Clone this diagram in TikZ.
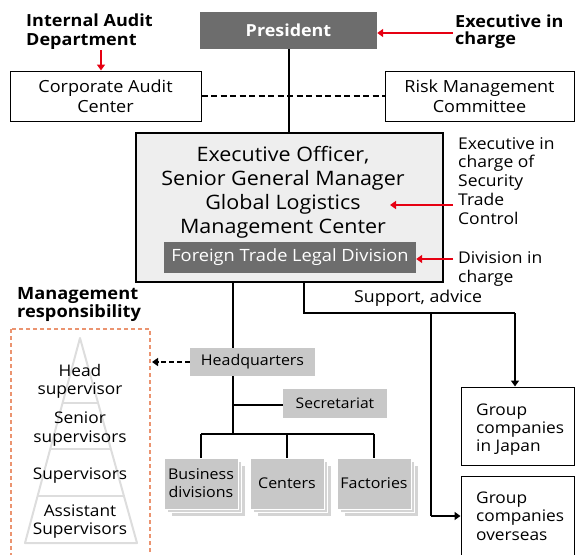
\documentclass[tikz,border=0pt]{standalone}
\usepackage{fontspec}
\setmainfont[FakeStretch=1.08]{Open Sans}
\usetikzlibrary{arrows.meta}
\definecolor{dgray}{HTML}{6D6D6D}
\definecolor{mgray}{HTML}{C8C8C8}
\definecolor{sgray}{HTML}{D4D4D4}
\definecolor{lgray}{HTML}{EEEEEE}
\definecolor{pgray}{HTML}{DDDDDD}
\definecolor{sred}{HTML}{E60012}
\definecolor{orng}{HTML}{EB9470}
\begin{document}
\begin{tikzpicture}[x=1pt,y=-1pt,
  wbox/.style={draw=black, line width=1pt, fill=white, inner sep=0pt, align=center},
  darkbox/.style={fill=dgray, text=white, inner sep=0pt, align=center},
  greybox/.style={fill=mgray, inner sep=0pt, align=center},
  stackbox/.style={fill=mgray, draw=white, line width=0.8pt, inner sep=0pt, align=center, font=\fontsize{14.8}{18}\selectfont},
  shadowbox/.style={fill=sgray, draw=white, line width=0.8pt, inner sep=0pt},
  txt/.style={inner sep=0pt, align=left},
  conn/.style={line width=2pt, black},
  redarrow/.style={line width=1.6pt, sred, -{Triangle[width=8pt,length=6pt]}},
  blkarrow/.style={line width=2pt, black, -{Triangle[width=8pt,length=6pt]}},
]
\useasboundingbox (0,0) rectangle (575,554);
\begin{scope}
\clip (0,0) rectangle (575,554);

% top row
\node[darkbox, minimum width=177pt, minimum height=37pt, font=\fontsize{16.6}{19}\bfseries] (pres) at (288.5,30.5) {President};
\node[txt, anchor=base west, font=\fontsize{16.7}{18}\bfseries] (iad) at (26,45) {Internal Audit\\Department};
\node[txt, anchor=base west, font=\fontsize{16.7}{17}\bfseries] (eic) at (455,44) {Executive in\\charge};
\node[wbox, minimum width=191pt, minimum height=50pt, font=\fontsize{16.7}{20}\selectfont] (cac) at (105.5,96) {Corporate Audit\\Center};
\node[wbox, minimum width=189pt, minimum height=50pt, font=\fontsize{16.7}{20}\selectfont] (rmc) at (479.5,96) {Risk Management\\Committee};
\coordinate (iadarr) at (101,50);
\draw[redarrow] (iadarr) -- (iadarr |- cac.north);
\coordinate (eicarr) at (453,33);
\draw[redarrow] (eicarr) -- (pres.east |- eicarr);

% executive box
\node[draw=black, line width=2.5pt, fill=lgray, minimum width=307pt, minimum height=149pt, inner sep=0pt] (exec) at (289.5,207.5) {};
\node[txt, align=center, anchor=base, font=\fontsize{19.9}{24}\selectfont] (exectxt) at (283,233) {Executive Officer,\\Senior General Manager\\Global Logistics\\Management Center};
\node[darkbox, minimum width=252pt, minimum height=31pt, font=\fontsize{16.9}{19}\selectfont] (ftld) at (290,257.5) {Foreign Trade Legal Division};
\node[txt, anchor=base west, font=\fontsize{16.2}{18.75}\selectfont] (eicstc) at (458,224) {Executive in\\charge of\\Security\\Trade\\Control};
\node[txt, anchor=base west, font=\fontsize{16.2}{18.5}\selectfont] (dic) at (458,282) {Division in\\charge};
\coordinate (a1) at (453,205);
\coordinate (a1e) at (390,205);
\draw[redarrow] (a1) -- (a1e);
\coordinate (a2) at (453,259);
\draw[redarrow] (a2) -- (ftld.east |- a2);
\draw[conn] (pres.south) -- (pres.south |- exec.north);
\draw[conn, dash pattern=on 6pt off 3.5pt] (cac.east) -- (rmc.west);

% support line
\node[txt, anchor=base west, font=\fontsize{16.4}{19}\selectfont] (sup) at (354,302) {Support, advice};
\node[wbox, minimum width=113pt, minimum height=78pt] (gcj) at (517.5,426) {};
\node[txt, anchor=base west, font=\fontsize{16}{18}\selectfont] (gcjt) at (476,451) {Group\\companies\\in Japan};
\node[wbox, minimum width=113pt, minimum height=86pt, inner sep=0pt] (gco) at (517.5,519) {};
\node[txt, anchor=base west, font=\fontsize{16}{18.5}\selectfont] (gcot) at (476,540) {Group\\companies\\overseas};
\coordinate (s0) at (304,282);
\coordinate (s1) at (304,313);
\coordinate (s2) at (515,313);
\coordinate (s3) at (431,313);
\coordinate (s4) at (431,516);
\draw[conn] (s0) -- (s1) -- (s2);
\draw[blkarrow] (s2) -- (s2 |- gcj.north);
\draw[conn] (s3) -- (s4);
\draw[blkarrow] (s4) -- (gco.west |- s4);

% headquarters tree
\node[greybox, minimum width=125pt, minimum height=28pt, font=\fontsize{14.8}{18}\selectfont] (hq) at (252.5,362) {Headquarters};
\node[greybox, minimum width=104pt, minimum height=29pt, font=\fontsize{14.5}{18}\selectfont] (sec) at (335,403.5) {Secretariat};
\coordinate (h0) at (233,282);
\coordinate (h1) at (233,348);
\coordinate (h2) at (233,376);
\coordinate (h3) at (233,434);
\coordinate (hs) at (233,405);
\draw[conn] (h0) -- (h1);
\draw[conn] (h2) -- (h3);
\draw[conn] (hs) -- (sec.west |- hs);

\foreach \n/\cx/\t in {bd/201/{Business\\divisions}, cen/287/{Centers}, fac/374/{Factories}}{
  \node[shadowbox, minimum width=74pt, minimum height=51pt] at (\cx+7,490.5) {};
  \node[shadowbox, minimum width=74pt, minimum height=51pt] at (\cx+3.5,487) {};
  \node[stackbox, minimum width=74pt, minimum height=51pt] (\n) at (\cx,483.5) {\t};
}
\draw[conn] (bd.north |- h3) -- (fac.north |- h3);
\draw[conn] (bd.north |- h3) -- (bd.north);
\draw[conn] (cen.north |- h3) -- (cen.north);
\draw[conn] (fac.north |- h3) -- (fac.north);

% management responsibility
\node[txt, anchor=base west, font=\fontsize{16.9}{16.5}\bfseries] (mr) at (17,317) {Management\\responsibility};
\draw[orng, line width=1.6pt, dash pattern=on 4pt off 3pt] (11,329) rectangle (150,560);
\coordinate (pa) at (80,338);
\coordinate (pl) at (25,543);
\coordinate (pr) at (137,543);
\draw[pgray, line width=2pt, line join=round] (pa) -- (pl) -- (pr) -- cycle;
\draw[pgray, line width=2pt] (62.2,403) -- (97.8,403);
\draw[pgray, line width=2pt] (49.7,449) -- (110.3,449);
\draw[pgray, line width=2pt] (36.8,496) -- (123.2,496);
\node[txt, align=center, anchor=base, font=\fontsize{16}{18}\selectfont] (p1) at (80,394) {Head\\supervisor};
\node[txt, align=center, anchor=base, font=\fontsize{16}{18.5}\selectfont] (p2) at (80,442) {Senior\\supervisors};
\node[txt, align=center, anchor=base, font=\fontsize{16}{18}\selectfont] (p3) at (80,479) {Supervisors};
\node[txt, align=center, anchor=base, font=\fontsize{16}{17.5}\selectfont] (p4) at (80,534) {Assistant\\Supervisors};
\draw[blkarrow, dash pattern=on 5pt off 3pt] (hq.west) -- (152,362);
\end{scope}
\end{tikzpicture}
\end{document}
